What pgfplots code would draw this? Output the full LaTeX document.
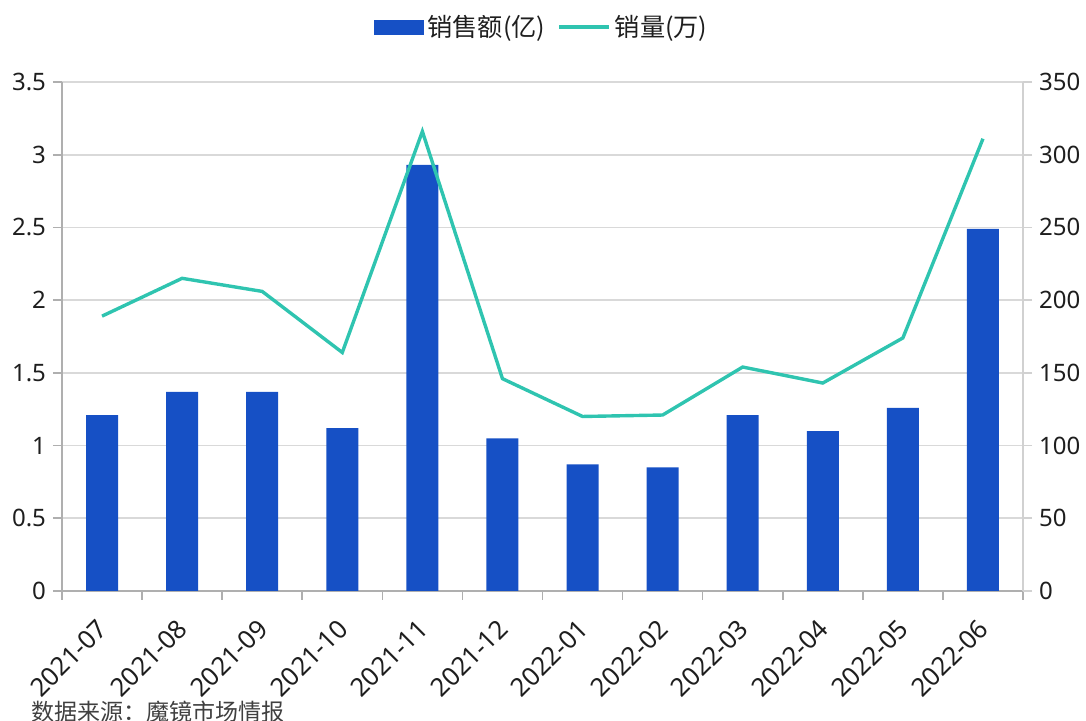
\documentclass[border=0pt]{standalone}
\usepackage{fontspec}
\setmainfont{Noto Sans}
\newfontfamily\cjk{Noto Sans CJK SC}
\usepackage{pgfplots}
\usepackage{pgfplotstable}
\pgfplotsset{compat=1.18}
\definecolor{barblue}{RGB}{22,80,197}
\definecolor{lineteal}{RGB}{47,196,176}
\definecolor{gridgray}{RGB}{217,217,217}
\definecolor{axgray}{RGB}{175,175,175}
\definecolor{txt}{RGB}{30,30,30}

\pgfplotstableread{
x sales qty
0 1.21 189
1 1.37 215
2 1.37 206
3 1.12 164
4 2.93 316
5 1.05 146
6 0.87 120
7 0.85 121
8 1.21 154
9 1.10 143
10 1.26 174
11 2.49 311
}\data

\begin{document}
\begin{tikzpicture}[font=\fontsize{12}{14}\selectfont]
\begin{axis}[name=ax, width=480.5pt, height=254.5pt, scale only axis,
  xmin=-0.5, xmax=11.5, ymin=0, ymax=3.5,
  ytick={0,0.5,...,3.5},
  yticklabel style={/pgf/number format/fixed, /pgf/number format/assume math mode=true, text=txt},
  axis x line*=bottom, axis y line*=left,
  axis line style={axgray, line width=0.8pt, -},
  ymajorgrids, grid style={gridgray, line width=0.8pt},
  tick align=outside, major tick length=4.5pt, minor tick length=4.5pt,
  tick style={axgray, line width=0.8pt},
  xtick={0,...,11},
  xticklabels={2021-07,2021-08,2021-09,2021-10,2021-11,2021-12,2022-01,2022-02,2022-03,2022-04,2022-05,2022-06},
  major x tick style={draw=none},
  minor xtick={-0.5,0.5,...,11.5},
  xticklabel style={xshift=0.5pt, yshift=-12pt, rotate=45, anchor=east, inner sep=0pt, text=txt, font=\fontsize{12.8}{14}\selectfont},
  legend style={at={(0.5,1.108)}, anchor=center, legend columns=2, draw=none, fill=none,
    /tikz/every even column/.append style={column sep=4pt}, font=\cjk\fontsize{12.6}{14}\selectfont, text=txt},
]
\addplot[ybar, fill=barblue, draw=none, bar width=16pt,
  legend image code/.code={\fill[barblue] (0pt,-3.75pt) rectangle (25pt,3.75pt);}]
  table[x=x,y=sales]{\data};
\addlegendentry{销售额(亿)}
\addlegendimage{lineteal, line width=1.7pt, legend image code/.code={\draw[lineteal, line width=1.7pt] (0pt,0pt) -- (25pt,0pt);}}
\addlegendentry{销量(万)}
\end{axis}
\begin{axis}[width=480.5pt, height=254.5pt, scale only axis,
  xmin=-0.5, xmax=11.5, ymin=0, ymax=350,
  ytick={0,50,...,350},
  yticklabel style={/pgf/number format/assume math mode=true, text=txt},
  axis y line*=right, axis x line=none,
  axis line style={gridgray!80!axgray, line width=0.8pt, -},
  tick align=outside, major tick length=4.5pt,
  tick style={gridgray!80!axgray, line width=0.8pt},
]
\addplot[lineteal, line width=1.7pt, mark=none] table[x=x,y=qty]{\data};
\end{axis}
\node[anchor=west, font=\cjk\fontsize{11.5}{13}\selectfont, text=txt!85!white] at ([xshift=-19pt,yshift=-60.5pt]ax.south west) {数据来源：魔镜市场情报};
\pgfresetboundingbox
\path ([xshift=-31pt,yshift=-65pt]ax.south west) rectangle ([xshift=31.5pt,yshift=41pt]ax.north east);
\end{tikzpicture}
\end{document}
